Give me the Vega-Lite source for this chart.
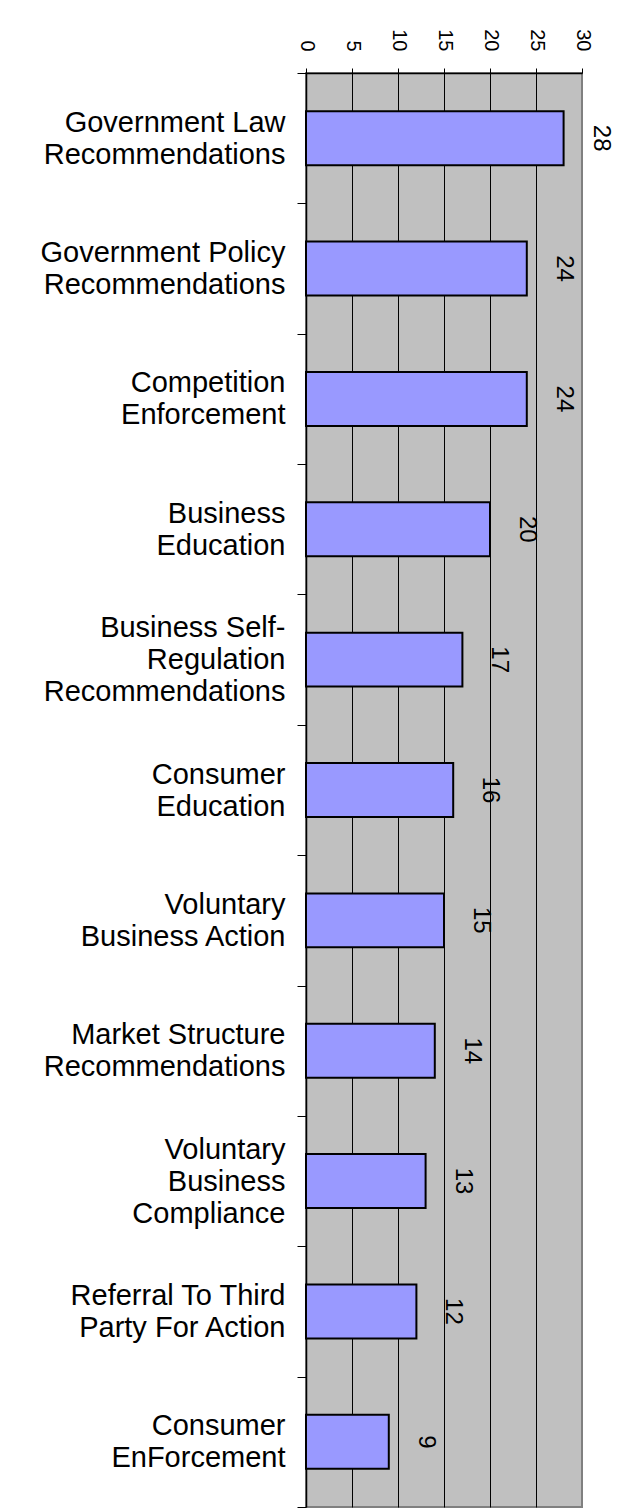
{
  "$schema": "https://vega.github.io/schema/vega-lite/v6.json",
  "width": 276,
  "height": 1434,
  "autosize": {"type": "none"},
  "padding": {"left": 306, "top": 73, "right": 62, "bottom": 5},
  "background": "white",
  "config": {
    "view": {"fill": "#c0c0c0", "stroke": "#808080", "strokeWidth": 2},
    "font": "Liberation Sans"
  },
  "data": {
    "values": [
      {"category": "Government Law\nRecommendations", "value": 28},
      {"category": "Government Policy\nRecommendations", "value": 24},
      {"category": "Competition\nEnforcement", "value": 24},
      {"category": "Business\nEducation", "value": 20},
      {"category": "Business Self-\nRegulation\nRecommendations", "value": 17},
      {"category": "Consumer\nEducation", "value": 16},
      {"category": "Voluntary\nBusiness Action", "value": 15},
      {"category": "Market Structure\nRecommendations", "value": 14},
      {"category": "Voluntary\nBusiness\nCompliance", "value": 13},
      {"category": "Referral To Third\nParty For Action", "value": 12},
      {"category": "Consumer\nEnForcement", "value": 9}
    ]
  },
  "encoding": {
    "y": {
      "field": "category",
      "type": "nominal",
      "sort": null,
      "scale": {"paddingInner": 0, "paddingOuter": 0},
      "axis": {
        "title": null,
        "tickBand": "extent",
        "tickSize": 9,
        "tickColor": "black",
        "tickWidth": 1,
        "domainColor": "black",
        "domainWidth": 1.5,
        "labelPadding": 12,
        "labelFontSize": 29,
        "labelColor": "black",
        "labelLineHeight": 32,
        "labelAlign": "right",
        "labelBaseline": "middle",
        "labelLimit": 0,
        "labelOffset": {
          "condition": {"test": "length(split(datum.label, '\\n')) === 3", "value": -32},
          "value": -16
        },
        "labelExpr": "split(datum.label, '\\n')",
        "grid": false
      }
    }
  },
  "layer": [
    {
      "mark": {
        "type": "bar",
        "fill": "#9999ff",
        "stroke": "black",
        "strokeWidth": 2,
        "height": {"band": 0.414}
      },
      "encoding": {
        "x": {
          "field": "value",
          "type": "quantitative",
          "scale": {"domain": [0, 30], "nice": false},
          "axis": {
            "orient": "top",
            "title": null,
            "values": [0, 5, 10, 15, 20, 25, 30],
            "tickSize": 5,
            "tickColor": "black",
            "domainColor": "black",
            "domainWidth": 1.5,
            "labelAngle": 90,
            "labelAlign": "right",
            "labelBaseline": "middle",
            "labelPadding": 17,
            "labelFontSize": 20,
            "labelColor": "black",
            "grid": true,
            "gridColor": {
              "condition": {"test": "datum.value === 0 || datum.value === 30", "value": "transparent"},
              "value": "black"
            },
            "gridWidth": 1,
            "gridOpacity": 1
          }
        }
      }
    },
    {
      "mark": {
        "type": "text",
        "angle": 90,
        "dy": -37,
        "align": "center",
        "baseline": "middle",
        "fontSize": 24,
        "color": "black"
      },
      "encoding": {
        "x": {"field": "value", "type": "quantitative"},
        "text": {"field": "value", "type": "quantitative"}
      }
    }
  ]
}
